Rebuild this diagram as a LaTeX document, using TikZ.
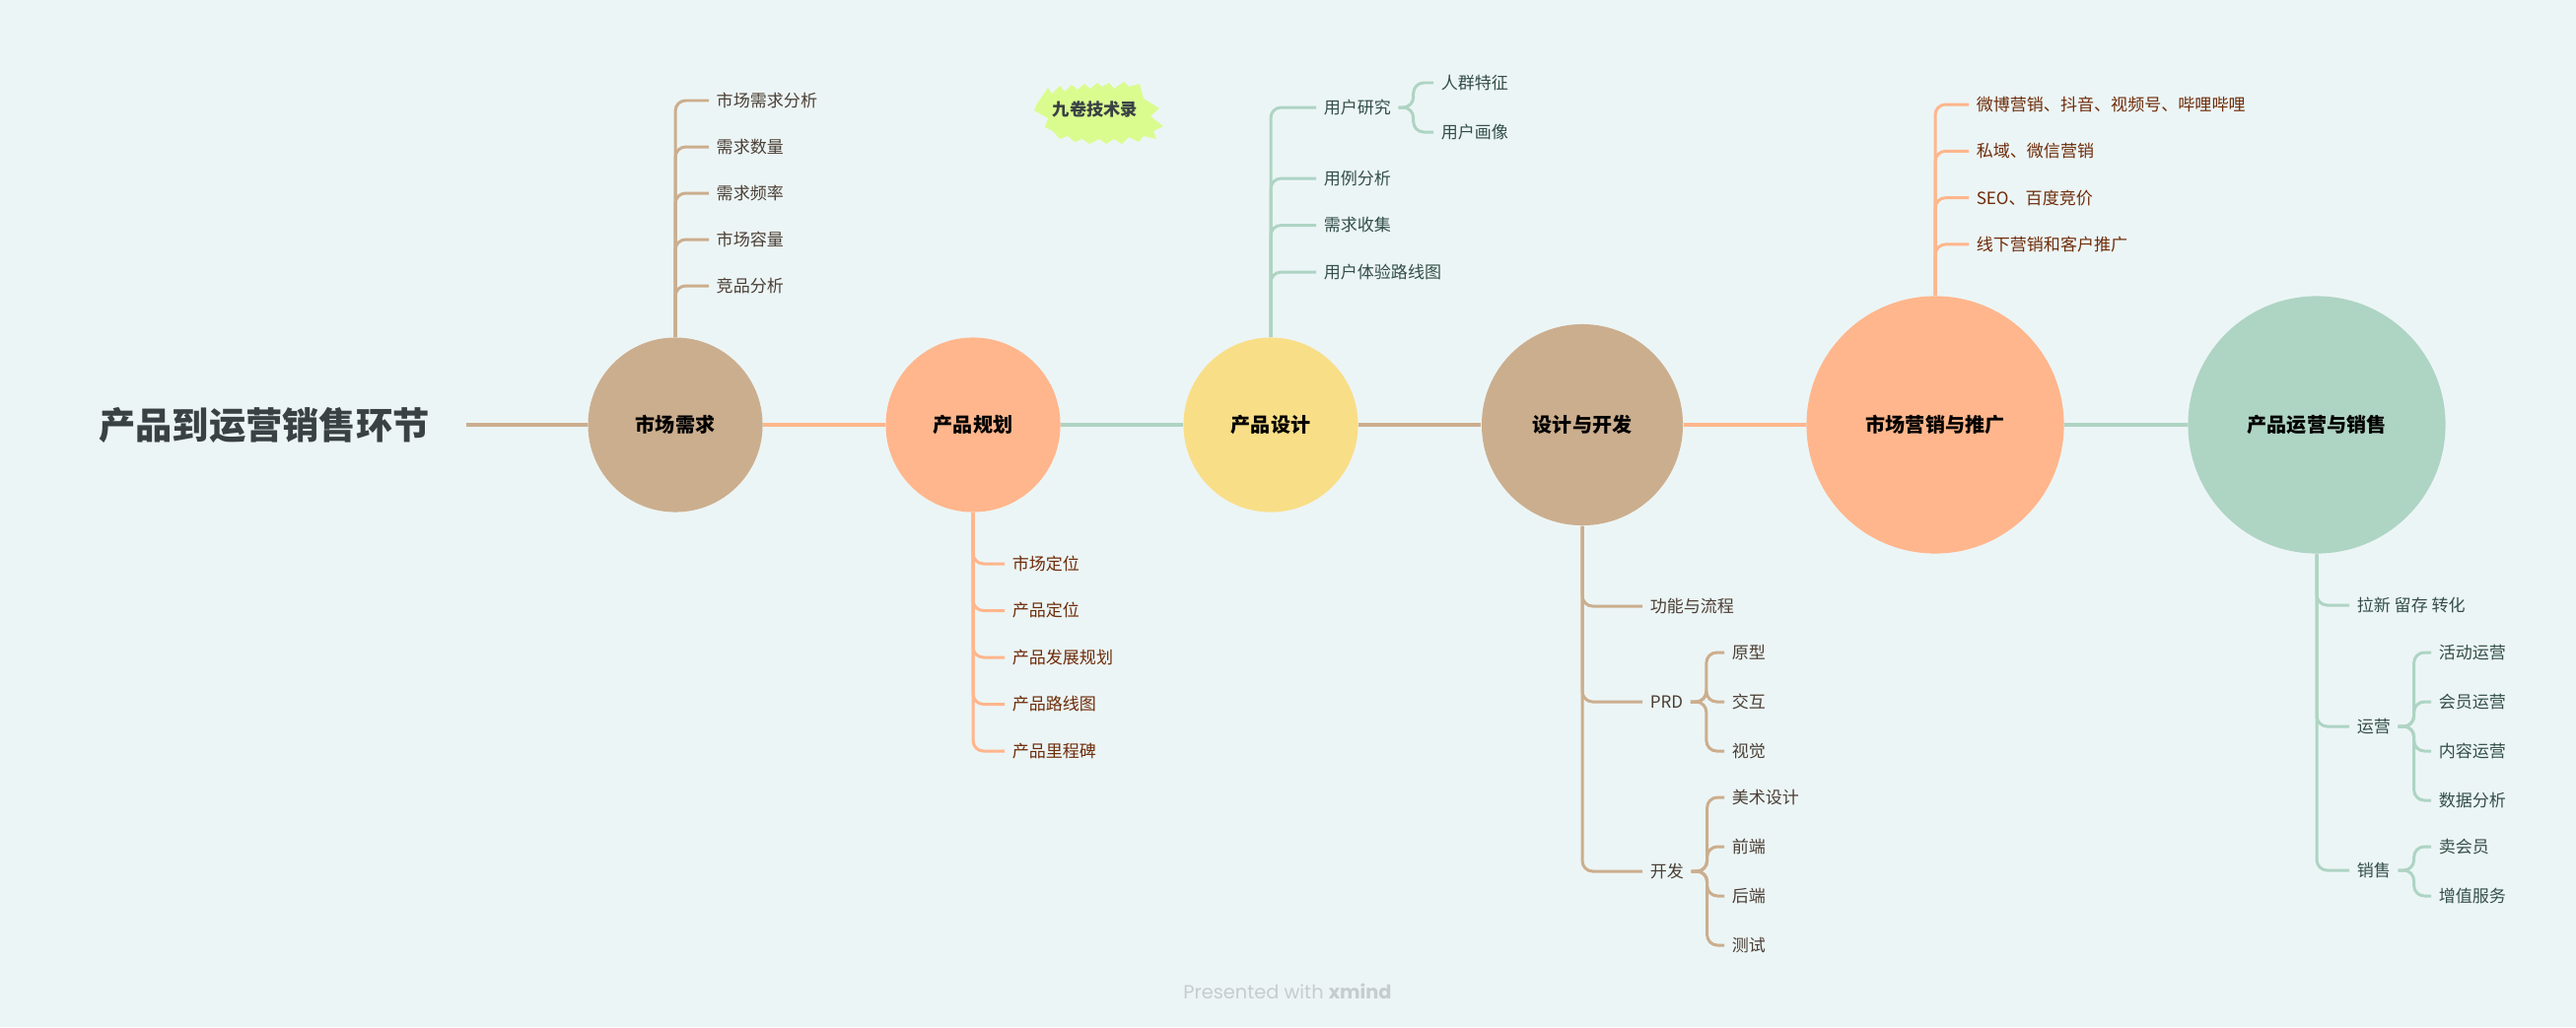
\documentclass[tikz,border=0pt]{standalone}
\usepackage{fontspec}
\setmainfont{Noto Sans CJK SC}
\newfontfamily\wmfont{Poppins}
\usetikzlibrary{positioning}
\definecolor{bg}{HTML}{ECF5F5}
\definecolor{stagetan}{HTML}{CBAE8E}
\definecolor{peach}{HTML}{FFB68C}
\definecolor{sun}{HTML}{F9DE88}
\definecolor{mint}{HTML}{AED4C4}
\definecolor{tantext}{HTML}{4A3F36}
\definecolor{peachtext}{HTML}{6E2C0A}
\definecolor{minttext}{HTML}{334F47}
\definecolor{titletext}{HTML}{394144}
\definecolor{lime}{HTML}{DAFC8F}
\definecolor{wmgray}{HTML}{C5CDCE}

\begin{document}
\begin{tikzpicture}[x=0.01cm,y=-0.01cm,
  stage/.style={circle,inner sep=0pt,text=black,font=\fontsize{5.7}{6.8}\selectfont\bfseries},
  leaf/.style={anchor=west,inner sep=2pt,font=\fontsize{4.85}{5.8}\selectfont},
  axis/.style={line width=1.1pt},
  twig/.style={line width=0.85pt,rounded corners=3pt}]
\fill[bg] (0,0) rectangle (2613,1042);
% title and the six stages
\node[text=titletext,inner xsep=10.5pt,font=\fontsize{10.6}{12.7}\selectfont\bfseries] (title) at (268,431) {产品到运营销售环节};
\node[stage,fill=stagetan,minimum size=1.77cm] (c1) at (685,431) {市场需求};
\node[stage,fill=peach,minimum size=1.77cm] (c2) at (987,431) {产品规划};
\node[stage,fill=sun,minimum size=1.77cm] (c3) at (1289,431) {产品设计};
\node[stage,fill=stagetan,minimum size=2.04cm] (c4) at (1605,431) {设计与开发};
\node[stage,fill=peach,minimum size=2.61cm] (c5) at (1963,431) {市场营销与推广};
\node[stage,fill=mint,minimum size=2.61cm] (c6) at (2350,431) {产品运营与销售};
\draw[axis,stagetan] (title.east) -- (c1);
\draw[axis,peach] (c1) -- (c2);
\draw[axis,mint] (c2) -- (c3);
\draw[axis,stagetan] (c3) -- (c4);
\draw[axis,peach] (c4) -- (c5);
\draw[axis,mint] (c5) -- (c6);
% 市场需求
\foreach \t [count=\i] in {市场需求分析,需求数量,需求频率,市场容量,竞品分析}{
  \node[leaf,text=tantext] (xq\i) at (719,{102+47*(\i-1)}) {\t};
  \draw[twig,stagetan] (c1.north) |- (xq\i.west);
}
% 产品规划
\foreach \t [count=\i] in {市场定位,产品定位,产品发展规划,产品路线图,产品里程碑}{
  \node[leaf,text=peachtext] (gh\i) at (1019,{572+47.5*(\i-1)}) {\t};
  \draw[twig,peach] (c2.south) |- (gh\i.west);
}
% 产品设计
\node[leaf,text=minttext] (sj1) at (1335,109) {用户研究};
\foreach \t [count=\i from 2] in {用例分析,需求收集,用户体验路线图}{
  \node[leaf,text=minttext] (sj\i) at (1335,{181+47.5*(\i-2)}) {\t};
}
\foreach \i in {1,...,4}{
  \draw[twig,mint] (c3.north) |- (sj\i.west);
}
\node[leaf,text=minttext] (yh1) at (1454,84) {人群特征};
\node[leaf,text=minttext] (yh2) at (1454,134) {用户画像};
\foreach \i in {1,2}{
  \draw[twig,mint] (sj1.east) -- ++(15,0) |- (yh\i.west);
}
% 设计与开发
\node[leaf,text=tantext] (kf1) at (1666,615) {功能与流程};
\node[leaf,text=tantext] (kf2) at (1666,712) {PRD};
\node[leaf,text=tantext] (kf3) at (1666,884) {开发};
\foreach \i in {1,2,3}{
  \draw[twig,stagetan] (c4.south) |- (kf\i.west);
}
\foreach \t [count=\i] in {原型,交互,视觉}{
  \node[leaf,text=tantext] (prd\i) at (1749,{662+50*(\i-1)}) {\t};
  \draw[twig,stagetan] (kf2.east) -- ++(16,0) |- (prd\i.west);
}
\foreach \t [count=\i] in {美术设计,前端,后端,测试}{
  \node[leaf,text=tantext] (dev\i) at (1749,{809+50*(\i-1)}) {\t};
  \draw[twig,stagetan] (kf3.east) -- ++(16,0) |- (dev\i.west);
}
% 市场营销与推广
\foreach \t [count=\i] in {微博营销、抖音、视频号、哔哩哔哩,私域、微信营销,SEO、百度竞价,线下营销和客户推广}{
  \node[leaf,text=peachtext] (yx\i) at (1997,{106+47.3*(\i-1)}) {\t};
  \draw[twig,peach] (c5.north) |- (yx\i.west);
}
% 产品运营与销售
\node[leaf,text=minttext] (yy1) at (2383,614) {拉新 留存 转化};
\node[leaf,text=minttext] (yy2) at (2383,737) {运营};
\node[leaf,text=minttext] (yy3) at (2383,883) {销售};
\foreach \i in {1,2,3}{
  \draw[twig,mint] (c6.south) |- (yy\i.west);
}
\foreach \t [count=\i] in {活动运营,会员运营,内容运营,数据分析}{
  \node[leaf,text=minttext] (op\i) at (2466,{662+50*(\i-1)}) {\t};
  \draw[twig,mint] (yy2.east) -- ++(16,0) |- (op\i.west);
}
\foreach \t [count=\i] in {卖会员,增值服务}{
  \node[leaf,text=minttext] (xs\i) at (2466,{859+50*(\i-1)}) {\t};
  \draw[twig,mint] (yy3.east) -- ++(16,0) |- (xs\i.west);
}
% sticker
\fill[lime] (1052,105) -- (1063,89) -- (1067,95) -- (1075,87) -- (1080,93) -- (1087,86)
  -- (1093,91) -- (1100,85) -- (1106,90) -- (1113,84) -- (1118,88) -- (1125,84)
  -- (1130,90) -- (1140,83) -- (1145,88) -- (1156,85) -- (1160,100) -- (1176,110)
  -- (1167,118) -- (1180,128) -- (1170,133) -- (1173,141) -- (1160,138) -- (1155,144)
  -- (1145,139) -- (1138,146) -- (1130,141) -- (1122,146) -- (1115,141) -- (1105,146)
  -- (1098,141) -- (1090,144) -- (1083,138) -- (1075,141) -- (1068,133) -- (1060,129)
  -- (1063,120) -- (1049,112) -- cycle;
\node[text=titletext,font=\fontsize{4.9}{5.9}\selectfont\bfseries] (tag) at (1111,111) {九卷技术录};
% footer
\node[text=wmgray,font=\wmfont\fontsize{5.5}{6.5}\selectfont] (wm) at (1306,1006) {Presented with \textbf{xmind}};
\end{tikzpicture}
\end{document}
